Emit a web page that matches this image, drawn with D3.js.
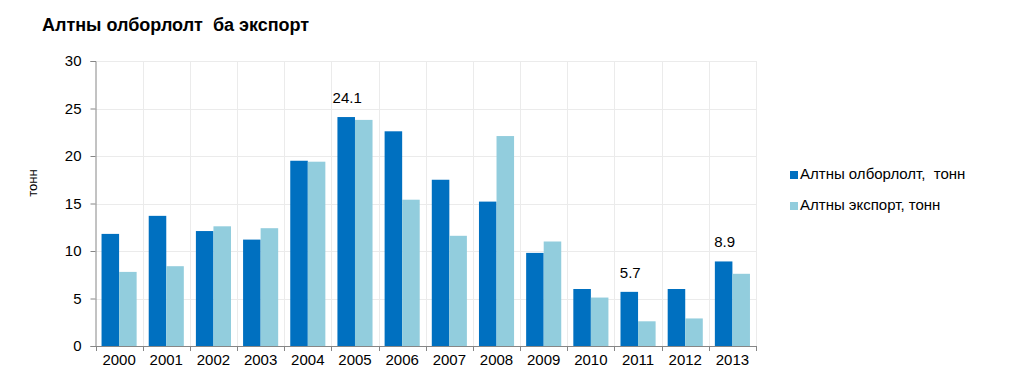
<!DOCTYPE html>
<html><head><meta charset="utf-8">
<script src="https://cdn.jsdelivr.net/npm/d3@7"></script>
<style>body{margin:0;background:#fff;} text{font-family:Arial,"Liberation Sans",sans-serif;}</style>
</head><body><svg id="c" width="1021" height="380"></svg>
<script>
const categories = ["2000","2001","2002","2003","2004","2005","2006","2007","2008","2009","2010","2011","2012","2013"];
const seriesNames = ["Алтны олборлолт,  тонн","Алтны экспорт, тонн"];
const production = [11.8,13.7,12.1,11.2,19.5,24.1,22.6,17.5,15.2,9.8,6.0,5.7,6.0,8.9];
const exportVals = [7.8,8.4,12.6,12.4,19.4,23.8,15.4,11.6,22.1,11.0,5.1,2.6,2.9,7.6];
const yTicks = [0,5,10,15,20,25,30];
const labeled = ["2005","2011","2013"];
const colors = ["#0070C0","#92CDDD"];

const svg = d3.select("#c");
const L=95.5, R=756, T=61, B=346;
const x = d3.scaleBand().domain(categories).range([L,R]).padding(0);
const bw = x.bandwidth();
const x1 = d3.scaleBand().domain([0,1]).range([bw*0.128, bw*0.872]).padding(0);
const y = d3.scaleLinear().domain([0,30]).range([B,T]);

// grid
const g = svg.append("g");
g.selectAll(".hg").data(yTicks.filter(d=>d>0)).enter().append("line")
  .attr("x1",L).attr("x2",R).attr("y1",d=>Math.round(y(d))+0.5).attr("y2",d=>Math.round(y(d))+0.5)
  .attr("stroke","#ebebeb");
g.selectAll(".vg").data(categories.slice(1).concat(["end"])).enter().append("line")
  .attr("x1",(d,i)=>Math.round(L+bw*(i+1))+0.5).attr("x2",(d,i)=>Math.round(L+bw*(i+1))+0.5)
  .attr("y1",T).attr("y2",B).attr("stroke","#ebebeb");

// bars
const data = categories.map((c,i)=>({c, v:[production[i], exportVals[i]]}));
const grp = svg.append("g").selectAll("g").data(data).enter().append("g")
  .attr("transform",d=>`translate(${x(d.c)},0)`);
grp.selectAll("rect").data(d=>d.v.map((v,k)=>({v,k}))).enter().append("rect")
  .attr("x",d=>x1(d.k)).attr("width",x1.bandwidth())
  .attr("y",d=>y(d.v)).attr("height",d=>B-y(d.v)).attr("fill",d=>colors[d.k]);

// labels
svg.append("g").selectAll("text").data(data.filter(d=>labeled.includes(d.c))).enter().append("text")
  .attr("x",d=>x(d.c)+x1(0)+x1.bandwidth()/2+1).attr("y",d=>y(d.v[0])-14)
  .attr("text-anchor","middle").attr("font-size",15).attr("fill","#000").text(d=>d.v[0]);

// y axis
const ya = svg.append("g").attr("transform",`translate(${L},0)`)
  .call(d3.axisLeft(y).tickValues(yTicks).tickSize(5).tickPadding(9));
ya.select(".domain").attr("stroke","#868686");
ya.selectAll(".tick line").attr("stroke","#868686");
ya.selectAll("text").attr("font-size",15).attr("fill","#000").attr("font-family","Arial");

// x axis
const xa = svg.append("g").attr("transform",`translate(0,${B})`)
  .call(d3.axisBottom(x).tickSize(0).tickPadding(8));
xa.select(".domain").attr("stroke","#868686");
xa.selectAll("text").attr("font-size",15).attr("fill","#000").attr("font-family","Arial");
svg.append("g").selectAll("line").data(d3.range(categories.length+1)).enter().append("line")
  .attr("x1",i=>Math.round(L+bw*i)+0.5).attr("x2",i=>Math.round(L+bw*i)+0.5)
  .attr("y1",B).attr("y2",B+5).attr("stroke","#868686");

// title
svg.append("text").attr("x",42).attr("y",31).attr("font-size",18).attr("font-weight","bold")
  .attr("fill","#000").text("Алтны олборлолт  ба экспорт").style("white-space","pre");

// y title
svg.append("text").attr("transform","translate(37,183) rotate(-90)").attr("text-anchor","middle")
  .attr("font-size",13).attr("fill","#000").text("тонн");

// legend
const lg = svg.append("g").selectAll("g").data(seriesNames).enter().append("g")
  .attr("transform",(d,i)=>`translate(790,${178+i*31})`);
lg.append("rect").attr("x",0).attr("y",-7).attr("width",8).attr("height",8).attr("fill",(d,i)=>colors[i]);
lg.append("text").attr("x",10).attr("y",1).attr("font-size",15).attr("fill","#000")
  .style("white-space","pre").text(d=>d);
</script></body></html>
